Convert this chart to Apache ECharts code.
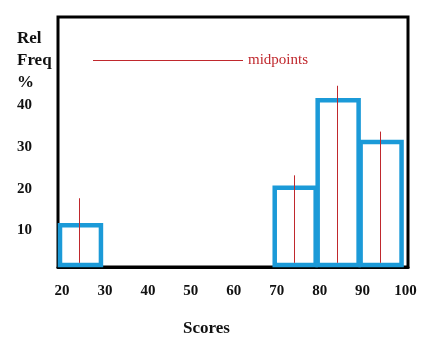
<!DOCTYPE html>
<html>
<head>
<meta charset="utf-8">
<script src="https://cdn.jsdelivr.net/npm/echarts@6/dist/echarts.min.js"></script>
<style>
  html, body { margin: 0; padding: 0; background: #fff; }
  #chart { width: 435px; height: 351px; }
</style>
</head>
<body>
<div id="chart"></div>
<script>
// histogram bins (scores) and relative frequency %
var binStart = [20, 70, 80, 90];
var binEnd = [30, 80, 90, 100];
var relFreq = [10, 19, 40, 30];

// red midpoint markers: x position, bottom and top
var midX = [25, 75, 85, 95];
var midLow = [1, 1, 1, 1];
var midHigh = [16.5, 22, 43.5, 32.5];

var xTicks = [20, 30, 40, 50, 60, 70, 80, 90, 100];
var yTicks = [10, 20, 30, 40];

var serif = '"Liberation Serif", "DejaVu Serif", serif';
var blue = '#1b9ad8';
var red = '#c0282d';

var chart = echarts.init(document.getElementById('chart'));

var barData = [];
for (var i = 0; i < relFreq.length; i++) {
    barData.push([binStart[i], binEnd[i], relFreq[i]]);
}
var midData = [];
for (var j = 0; j < midX.length; j++) {
    midData.push([midX[j], midLow[j], midHigh[j]]);
}

chart.setOption({
    animation: false,
    title: [{
        text: 'Rel\nFreq\n%',
        left: 17,
        top: 28,
        padding: 0,
        textStyle: { fontFamily: serif, fontSize: 17, fontWeight: 'bold', color: '#111', lineHeight: 22 }
    }, {
        text: 'Scores',
        left: 183,
        top: 320,
        padding: 0,
        textStyle: { fontFamily: serif, fontSize: 17, fontWeight: 'bold', color: '#111' }
    }],
    legend: {
        data: [{ name: 'midpoints', icon: 'rect' }],
        left: 93,
        top: 53,
        padding: 0,
        itemWidth: 150,
        itemHeight: 1,
        itemGap: 5,
        textStyle: { fontFamily: serif, fontSize: 15, color: red }
    },
    grid: {
        left: 58,
        right: 27,
        top: 17,
        bottom: 84,
        show: true,
        borderColor: '#000',
        borderWidth: 3,
        backgroundColor: '#fff'
    },
    xAxis: {
        type: 'value',
        min: 20,
        max: 101.5,
        interval: 10,
        splitLine: { show: false },
        axisLine: { show: true, onZero: false, lineStyle: { color: '#000', width: 3 } },
        axisTick: { show: false },
        axisLabel: {
            margin: 17,
            showMaxLabel: false,
            padding: [0, 0, 0, 8],
            fontFamily: serif,
            fontSize: 15,
            fontWeight: 'bold',
            color: '#111',
            formatter: function (v) {
                return xTicks.indexOf(v) >= 0 ? String(v) : '';
            }
        }
    },
    yAxis: {
        type: 'value',
        min: 0,
        max: 60,
        interval: 10,
        splitLine: { show: false },
        axisLine: { show: false },
        axisTick: { show: false },
        axisLabel: {
            margin: 41,
            align: 'left',
            verticalAlign: 'top',
            lineHeight: 10,
            fontFamily: serif,
            fontSize: 15,
            fontWeight: 'bold',
            color: '#111',
            formatter: function (v) {
                return yTicks.indexOf(v) >= 0 ? String(v) : '';
            }
        }
    },
    series: [{
        name: 'bars',
        type: 'custom',
        z: 3,
        data: barData,
        renderItem: function (params, api) {
            var p0 = api.coord([api.value(0), 0]);
            var p1 = api.coord([api.value(1), api.value(2)]);
            return {
                type: 'rect',
                shape: { x: p0[0] + 2, y: p1[1], width: p1[0] - p0[0] - 2, height: p0[1] - p1[1] - 2 },
                style: { fill: 'none', stroke: blue, lineWidth: 4.5 }
            };
        }
    }, {
        name: 'midpoints',
        type: 'custom',
        z: 4,
        itemStyle: { color: red },
        data: midData,
        renderItem: function (params, api) {
            var a = api.coord([api.value(0), api.value(1)]);
            var b = api.coord([api.value(0), api.value(2)]);
            var x = Math.round(a[0]) + 0.5;
            return {
                type: 'line',
                shape: { x1: x, y1: a[1], x2: x, y2: b[1] },
                style: { stroke: red, lineWidth: 1 }
            };
        }
    }]
});
</script>
</body>
</html>
